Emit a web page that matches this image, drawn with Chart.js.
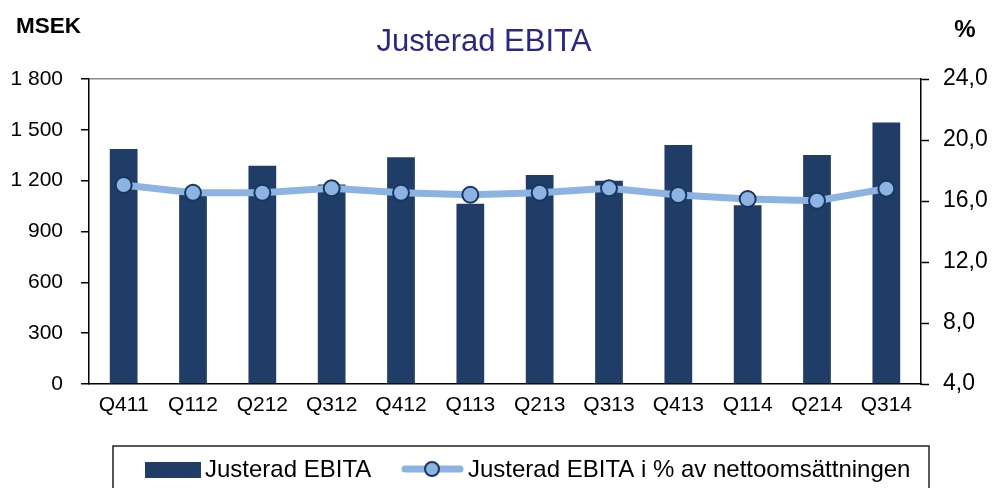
<!DOCTYPE html>
<html>
<head>
<meta charset="utf-8">
<script src="https://cdn.jsdelivr.net/npm/chart.js@4/dist/chart.umd.min.js"></script>
<style>
html,body{margin:0;padding:0;background:#fff;}
canvas{display:block;}
</style>
</head>
<body>
<canvas id="c" width="992" height="488"></canvas>
<script>
const categories = ['Q411','Q112','Q212','Q312','Q412','Q113','Q213','Q313','Q413','Q114','Q214','Q314'];
const ebita = [1387, 1115, 1288, 1178, 1338, 1064, 1233, 1200, 1410, 1055, 1351, 1544];
const ebitaPct = [17.05, 16.54, 16.54, 16.83, 16.54, 16.41, 16.54, 16.83, 16.39, 16.13, 16.02, 16.81];
const leftTicks = [0, 300, 600, 900, 1200, 1500, 1800];
const rightTicks = [4, 8, 12, 16, 20, 24];
const titleText = 'Justerad EBITA';
const leftUnit = 'MSEK';
const rightUnit = '%';
const barLabel = 'Justerad EBITA';
const lineLabel = 'Justerad EBITA i % av nettoomsättningen';

const BAR = '#1f3d66';
const LINE = '#8db3e2';
const MARK = '#17375e';
const FONT = '"Liberation Sans", Arial, sans-serif';

const decor = {
  id: 'decor',
  afterDraw(chart) {
    const ctx = chart.ctx;
    ctx.save();
    // title
    ctx.fillStyle = '#29297f';
    ctx.font = '31px ' + FONT;
    ctx.textAlign = 'center';
    ctx.textBaseline = 'middle';
    ctx.fillText(titleText, 484, 42);
    // units
    ctx.fillStyle = '#000';
    ctx.font = 'bold 22.5px ' + FONT;
    ctx.textAlign = 'left';
    ctx.fillText(leftUnit, 16, 27);
    ctx.font = 'bold 24px ' + FONT;
    ctx.textAlign = 'center';
    ctx.fillText(rightUnit, 965, 30);
    // legend box
    ctx.strokeStyle = '#222';
    ctx.lineWidth = 1.5;
    ctx.strokeRect(113, 446, 816, 60);
    // legend bar swatch
    ctx.fillStyle = BAR;
    ctx.fillRect(145, 462, 56, 16);
    ctx.fillStyle = '#000';
    ctx.font = '24px ' + FONT;
    ctx.textAlign = 'left';
    ctx.textBaseline = 'middle';
    ctx.fillText(barLabel, 205, 470);
    // legend line swatch
    ctx.strokeStyle = LINE;
    ctx.lineWidth = 7;
    ctx.lineCap = 'round';
    ctx.beginPath();
    ctx.moveTo(405, 469);
    ctx.lineTo(460, 469);
    ctx.stroke();
    ctx.beginPath();
    ctx.arc(432, 469, 7, 0, Math.PI * 2);
    ctx.fillStyle = LINE;
    ctx.fill();
    ctx.lineWidth = 2;
    ctx.strokeStyle = MARK;
    ctx.stroke();
    ctx.fillStyle = '#000';
    ctx.fillText(lineLabel, 468, 470);
    ctx.restore();
  }
};

new Chart(document.getElementById('c'), {
  data: {
    labels: categories,
    datasets: [
      {
        type: 'line',
        label: lineLabel,
        data: ebitaPct,
        yAxisID: 'y1',
        order: 1,
        borderColor: LINE,
        borderWidth: 7,
        tension: 0,
        pointRadius: 8,
        pointBackgroundColor: LINE,
        pointBorderColor: MARK,
        pointBorderWidth: 2,
        fill: false
      },
      {
        type: 'bar',
        label: barLabel,
        data: ebita,
        yAxisID: 'y',
        order: 2,
        backgroundColor: BAR,
        borderWidth: 0,
        categoryPercentage: 1,
        barPercentage: 0.4
      }
    ]
  },
  options: {
    responsive: false,
    animation: false,
    devicePixelRatio: 1,
    layout: { padding: { top: 79, left: 0, right: 0, bottom: 0 } },
    plugins: { legend: { display: false }, title: { display: false }, tooltip: { enabled: false } },
    scales: {
      x: {
        type: 'category',
        offset: true,
        afterFit(s) { s.height = 104; },
        grid: { display: true, drawOnChartArea: false, drawTicks: false, color: 'rgba(0,0,0,0)' },
        border: { display: true, color: '#000', width: 1.5 },
        ticks: { color: '#000', font: { family: FONT, size: 21 }, padding: 9, maxRotation: 0, autoSkip: false }
      },
      y: {
        position: 'left',
        min: 0, max: 1800,
        afterFit(s) { s.width = 89; },
        afterBuildTicks(s) { s.ticks = leftTicks.map(v => ({ value: v })); },
        grid: {
          drawOnChartArea: true,
          color: c => (c.tick && c.tick.value === 1800) ? '#8a8a8a' : 'rgba(0,0,0,0)',
          lineWidth: 1.5,
          tickColor: '#000',
          tickLength: 8,
          tickWidth: 1.5
        },
        border: { display: true, color: '#000', width: 1.5 },
        ticks: {
          color: '#000', font: { family: FONT, size: 21 }, padding: 18,
          callback: v => String(v).replace(/\B(?=(\d{3})+(?!\d))/g, ' ')
        }
      },
      y1: {
        position: 'right',
        min: 4, max: 24,
        afterFit(s) { s.width = 71; },
        afterBuildTicks(s) { s.ticks = rightTicks.map(v => ({ value: v })); },
        grid: { drawOnChartArea: false, tickColor: '#000', tickLength: 8, tickWidth: 1.5 },
        border: { display: true, color: '#000', width: 1.5 },
        ticks: {
          color: '#000', font: { family: FONT, size: 23 }, padding: 14,
          callback: v => Number(v).toFixed(1).replace('.', ',')
        }
      }
    }
  },
  plugins: [decor]
});
</script>
</body>
</html>
